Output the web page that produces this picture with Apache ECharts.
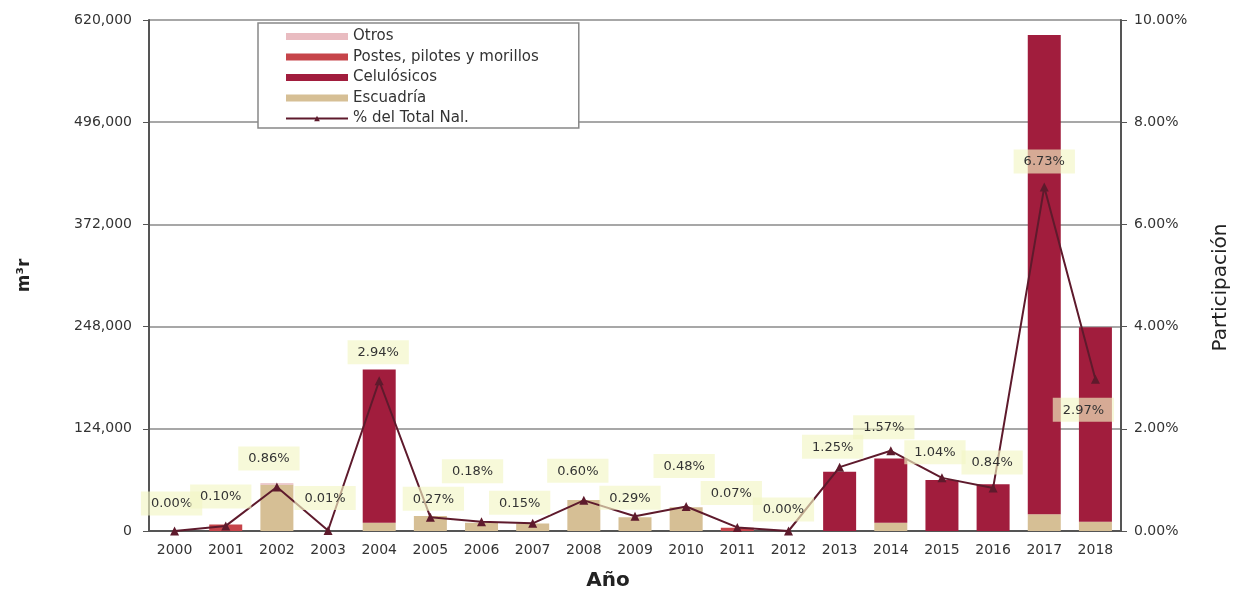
<!DOCTYPE html>
<html>
<head>
    <meta charset="utf-8">
    <title>Producción forestal</title>
    <script src="https://cdn.jsdelivr.net/npm/echarts@6/dist/echarts.min.js"></script>
    <style>
        html, body { margin: 0; padding: 0; background: #fff; }
        #chart1 { width: 1237px; height: 589px; }
    </style>
</head>
<body>
<div id="chart1"></div>
<script type="text/javascript">
    // datos
    var anios = ['2000','2001','2002','2003','2004','2005','2006','2007','2008','2009',
                 '2010','2011','2012','2013','2014','2015','2016','2017','2018'];
    var escuadria   = [0, 0, 56000, 0, 10000, 18200, 10000, 9000, 37600, 16600, 28800, 0, 0, 0, 10000, 0, 0, 20200, 11300];
    var celulosicos = [0, 0, 0, 0, 186000, 0, 0, 0, 0, 0, 0, 0, 0, 72000, 78000, 61900, 56600, 581600, 235800];
    var postes      = [0, 8000, 0, 0, 0, 0, 0, 0, 0, 0, 0, 4000, 0, 0, 0, 0, 0, 0, 0];
    var otros       = [0, 0, 2000, 0, 0, 0, 0, 0, 0, 0, 0, 0, 0, 0, 0, 0, 0, 0, 0];
    var pctTotal    = [0.00, 0.10, 0.86, 0.01, 2.94, 0.27, 0.18, 0.15, 0.60, 0.29, 0.48, 0.07, 0.00, 1.25, 1.57, 1.04, 0.84, 6.73, 2.97];
    var ticksIzq = [0, 124000, 248000, 372000, 496000, 620000];

    // desplazamiento de etiquetas (como en el original)
    var labelShift = [[-3,-8],[-5,-10],[-8,-9],[-3,-13],[-1,-9],[3,1],[-9,-31],[-13,-1],[-6,-10],[-5,1],
                      [-2,-21],[-6,-15],[-5,-2],[-7,-1],[-7,-4],[-7,-6],[-1,-6],[0,-6],[-12,50]];

    var fuente = 'DejaVu Sans';
    var myChart1 = echarts.init(document.getElementById('chart1'));

    var lineData = pctTotal.map(function (v, i) {
        return { value: v, label: { offset: labelShift[i] } };
    });

    var barra = function (nombre, datos, color) {
        return {
            name: nombre, type: 'bar', stack: 'vol', data: datos,
            barWidth: 33, itemStyle: { color: color }
        };
    };

    myChart1.setOption({
        animation: false,
        textStyle: { fontFamily: fuente },
        grid: { left: 149, right: 116, top: 20, bottom: 58, outerBoundsMode: 'none' },
        legend: {
            orient: 'vertical',
            left: 258, top: 23,
            padding: [6, 40, 2, 27],
            itemGap: 5.5,
            itemWidth: 62, itemHeight: 7,
            backgroundColor: '#fff',
            borderColor: '#888', borderWidth: 1.5,
            textStyle: { fontSize: 15, lineHeight: 14, color: '#333', fontFamily: fuente },
            data: [
                { name: 'Otros', icon: 'rect' },
                { name: 'Postes, pilotes y morillos', icon: 'rect' },
                { name: 'Celulósicos', icon: 'rect' },
                { name: 'Escuadría', icon: 'rect' },
                { name: '% del Total Nal.' }
            ]
        },
        xAxis: {
            type: 'category',
            data: anios,
            name: 'Año',
            nameLocation: 'middle',
            nameGap: 40,
            nameTextStyle: { fontSize: 20, fontWeight: 'bold', color: '#222', padding: [0, 54, 0, 0] },
            axisLine: { lineStyle: { color: '#555', width: 2 } },
            axisTick: { length: 5, lineStyle: { color: '#555' } },
            axisLabel: { fontSize: 14, color: '#333', margin: 12 }
        },
        yAxis: [{
            type: 'value',
            min: 0, max: ticksIzq[ticksIzq.length - 1], interval: 124000,
            name: 'm³r',
            nameLocation: 'middle',
            nameRotate: 90,
            nameGap: 116,
            nameTextStyle: { fontSize: 17, fontWeight: 'bold', color: '#222' },
            axisLine: { show: true, lineStyle: { color: '#555', width: 2 } },
            axisTick: { show: true, length: 6, lineStyle: { color: '#555' } },
            axisLabel: {
                fontSize: 14, color: '#333', margin: 17,
                formatter: function (v) { return v.toLocaleString('en-US'); }
            },
            splitLine: { lineStyle: { color: '#8a8a8a', width: 1.5 } }
        }, {
            type: 'value',
            min: 0, max: 10, interval: 2,
            name: 'Participación',
            nameLocation: 'middle',
            nameRotate: 90,
            nameGap: 90,
            nameTextStyle: { fontSize: 20, color: '#222', padding: [0, 24, 0, 0] },
            axisLine: { show: true, lineStyle: { color: '#555', width: 2 } },
            axisTick: { show: true, length: 6, lineStyle: { color: '#555' } },
            axisLabel: {
                fontSize: 14, color: '#333', margin: 13,
                formatter: function (v) { return v.toFixed(2) + '%'; }
            },
            splitLine: { show: false }
        }],
        series: [
            barra('Escuadría', escuadria, '#d6bf95'),
            barra('Celulósicos', celulosicos, '#a11d3d'),
            barra('Postes, pilotes y morillos', postes, '#c6444a'),
            barra('Otros', otros, '#e9bcc1'),
            {
                name: '% del Total Nal.',
                type: 'line',
                yAxisIndex: 1,
                data: lineData,
                symbol: 'triangle',
                symbolSize: 9,
                lineStyle: { color: '#5e1a2c', width: 2 },
                itemStyle: { color: '#5e1a2c' },
                label: {
                    show: true,
                    position: 'top',
                    distance: 3,
                    fontSize: 13,
                    color: '#333',
                    backgroundColor: 'rgba(243,246,196,0.65)',
                    padding: [6, 10, 5, 10],
                    formatter: function (p) { return p.value.toFixed(2) + '%'; }
                },
                z: 5
            }
        ]
    });
</script>
</body>
</html>
